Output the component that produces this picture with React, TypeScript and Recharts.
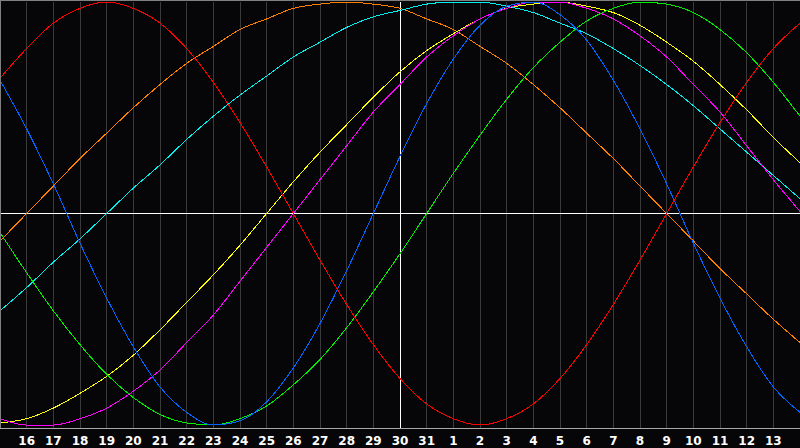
import React from 'react';
import { LineChart, Line, XAxis, YAxis, CartesianGrid, ReferenceLine } from 'recharts';

// day index: 15..31 = this month, 32..45 = 1..14 of next month
const days = [15, 16, 17, 18, 19, 20, 21, 22, 23, 24, 25, 26, 27, 28, 29, 30, 31, 32, 33, 34, 35, 36, 37, 38, 39, 40, 41, 42, 43, 44, 45];
const tickDays = [16, 17, 18, 19, 20, 21, 22, 23, 24, 25, 26, 27, 28, 29, 30, 31, 32, 33, 34, 35, 36, 37, 38, 39, 40, 41, 42, 43, 44];

const physical = [0.63, 0.40, 0.14, -0.14, -0.40, -0.63, -0.82, -0.94, -1.0, -0.98, -0.89, -0.73, -0.52, -0.27, 0, 0.27, 0.52, 0.73, 0.89, 0.98, 1.0, 0.94, 0.82, 0.63, 0.40, 0.14, -0.14, -0.40, -0.63, -0.82, -0.94];
const emotional = [0.64, 0.78, 0.90, 0.97, 1.0, 0.97, 0.90, 0.78, 0.62, 0.43, 0.22, 0, -0.22, -0.43, -0.62, -0.78, -0.90, -0.97, -1.0, -0.97, -0.90, -0.78, -0.62, -0.43, -0.22, 0, 0.22, 0.43, 0.62, 0.78, 0.90];
const intellectual = [-0.09, -0.28, -0.46, -0.62, -0.76, -0.87, -0.95, -0.99, -1.0, -0.97, -0.91, -0.81, -0.69, -0.54, -0.37, -0.19, 0, 0.19, 0.37, 0.54, 0.69, 0.81, 0.91, 0.97, 1.0, 0.99, 0.95, 0.87, 0.76, 0.62, 0.46];
const intuitive = [-0.97, -1.0, -1.0, -0.97, -0.92, -0.84, -0.74, -0.61, -0.48, -0.32, -0.16, 0, 0.16, 0.32, 0.48, 0.61, 0.74, 0.84, 0.92, 0.97, 1.0, 1.0, 0.97, 0.92, 0.84, 0.74, 0.61, 0.48, 0.32, 0.16, 0.01];
const aesthetic = [-0.99, -0.97, -0.92, -0.85, -0.77, -0.67, -0.55, -0.42, -0.29, -0.15, 0, 0.15, 0.29, 0.42, 0.55, 0.67, 0.77, 0.85, 0.92, 0.97, 0.99, 1.0, 0.98, 0.95, 0.89, 0.81, 0.72, 0.61, 0.49, 0.36, 0.24];
const awareness = [-0.13, 0, 0.13, 0.26, 0.38, 0.50, 0.61, 0.71, 0.79, 0.87, 0.92, 0.97, 0.99, 1.0, 0.99, 0.97, 0.92, 0.87, 0.79, 0.71, 0.61, 0.50, 0.38, 0.26, 0.13, 0, -0.13, -0.26, -0.38, -0.50, -0.61];
const spiritual = [-0.46, -0.35, -0.23, -0.12, 0, 0.12, 0.23, 0.35, 0.46, 0.56, 0.65, 0.74, 0.81, 0.88, 0.93, 0.96, 0.99, 1.0, 1.0, 0.98, 0.95, 0.90, 0.85, 0.78, 0.70, 0.61, 0.51, 0.40, 0.29, 0.18, 0.07];

const data = days.map((day, i) => ({
  day,
  physical: physical[i],
  emotional: emotional[i],
  intellectual: intellectual[i],
  intuitive: intuitive[i],
  aesthetic: aesthetic[i],
  awareness: awareness[i],
  spiritual: spiritual[i],
}));

const series = [
  { key: 'awareness', color: '#ff8000' },
  { key: 'spiritual', color: '#00f0f0' },
  { key: 'aesthetic', color: '#ffff00' },
  { key: 'intuitive', color: '#ff00ff' },
  { key: 'intellectual', color: '#00ee00' },
  { key: 'physical', color: '#0066ff' },
  { key: 'emotional', color: '#ff0000' },
];

const dayLabel = (d: number) => String(d > 31 ? d - 31 : d);

const App: React.FC = () => {
  return (
    <div style={{ position: 'absolute', left: 0, top: 0, width: 800, height: 448, background: '#060609' }}>
      <LineChart width={800} height={448} data={data} margin={{ top: 2, right: 0, bottom: 0, left: 0 }}>
        <CartesianGrid horizontal={false} stroke="#3a3a3a" shapeRendering="crispEdges" />
        <XAxis
          dataKey="day"
          type="number"
          domain={[15, 45]}
          ticks={tickDays}
          tickFormatter={dayLabel}
          interval={0}
          height={20}
          tickLine={false}
          axisLine={{ stroke: '#a8a8a8', shapeRendering: 'crispEdges' }}
          tick={{ fill: '#ffffff', fontSize: 12, fontWeight: 'bold', fontFamily: 'DejaVu Sans' }}
          allowDataOverflow
        />
        <YAxis hide domain={[-1.014, 1]} allowDataOverflow />
        <ReferenceLine y={0} stroke="#ffffff" shapeRendering="crispEdges" />
        <ReferenceLine x={30} stroke="#ffffff" shapeRendering="crispEdges" />
        {series.map((s) => (
          <Line
            key={s.key}
            dataKey={s.key}
            type="monotone"
            stroke={s.color}
            strokeWidth={1}
            dot={false}
            shapeRendering="crispEdges"
            isAnimationActive={false}
          />
        ))}
      </LineChart>
      <div style={{ position: 'absolute', left: 0, top: 0, width: 800, height: 428, borderTop: '1px solid #808080', borderLeft: '1px solid #808080', boxSizing: 'border-box', pointerEvents: 'none' }} />
    </div>
  );
};

export default App;
